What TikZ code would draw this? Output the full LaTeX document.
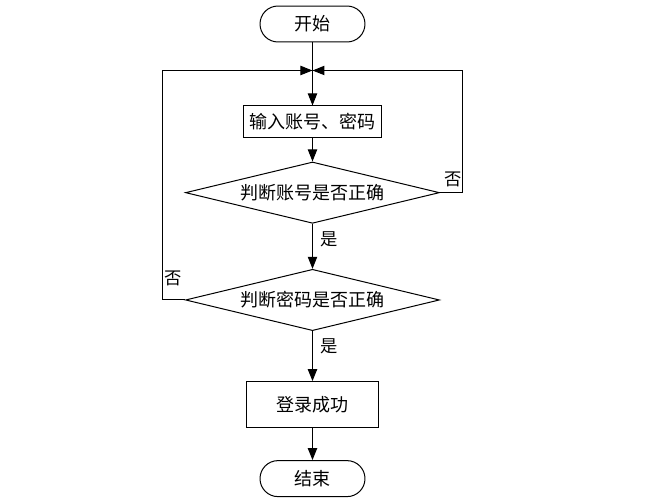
\documentclass[tikz,border=0pt]{standalone}
\usepackage{fontspec}
\setmainfont{Noto Sans CJK SC}
\usepackage{tikz}
\usetikzlibrary{shapes.geometric, arrows.meta, positioning}

\begin{document}
\begin{tikzpicture}[
    node distance=1cm,
    % start / end
    terminal/.style={
        rectangle, draw=black, rounded corners=13.5pt,
        minimum width=78.75pt, minimum height=27pt,
        align=center, font=\fontsize{13.5}{15}\selectfont,
        line width=0.75pt
    },
    % process steps
    box/.style={
        rectangle, draw=black,
        align=center, font=\fontsize{13.5}{15}\selectfont,
        line width=0.75pt
    },
    % checks
    decision/.style={
        diamond, draw=black, aspect=4.1, inner sep=0pt,
        minimum width=190.5pt, minimum height=46pt,
        align=center, font=\fontsize{13.5}{15}\selectfont,
        line width=0.75pt
    },
    arrow/.style={-{Triangle[length=9pt, width=7pt]}, black, line width=0.75pt},
    label/.style={font=\fontsize{13}{14}\selectfont, inner sep=1pt},
]

\path[use as bounding box] (-234.4pt,18pt) rectangle (253.9pt,-360pt);

% main column
\node[terminal] (start) {开始};
\coordinate[below=21pt of start] (merge);
\node[box, below=47.25pt of start, minimum width=103.5pt, minimum height=24pt] (input) {输入账号、密码};
\node[decision, below=17.25pt of input] (checkuser) {判断账号是否正确};
\node[decision, below=33.75pt of checkuser] (checkpwd) {判断密码是否正确};
\node[box, below=37.5pt of checkpwd, minimum width=99pt, minimum height=34.5pt] (success) {登录成功};
\node[terminal, below=24pt of success] (finish) {结束};

% straight flow
\draw[arrow] (start) -- (input);
\draw[arrow] (input) -- (checkuser);
\draw[arrow] (checkuser) -- node[pos=0.35, right=5pt, label] {是} (checkpwd);
\draw[arrow] (checkpwd) -- node[pos=0.3, right=5pt, label] {是} (success);
\draw[arrow] (success) -- (finish);

% loops back on failure
\draw[arrow] (checkuser.east) -- ++(17.25pt,0) coordinate (rightturn) |- (merge);
\node[label, above left=3pt and 0pt of rightturn] {否};
\draw[arrow] (checkpwd.west) -- ++(-17.25pt,0) coordinate (leftturn) |- (merge);
\node[label, above right=9pt and 1pt of leftturn] {否};

\end{tikzpicture}
\end{document}
